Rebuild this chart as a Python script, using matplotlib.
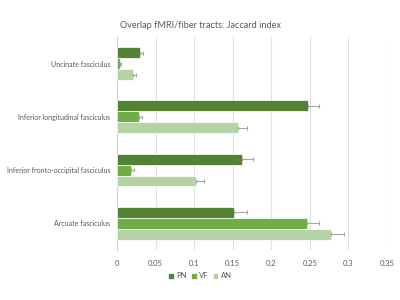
import matplotlib
matplotlib.use("Agg")
import matplotlib.pyplot as plt
import numpy as np

categories = ["Uncinate fasciculus", "Inferior longitudinal fasciculus",
              "Inferior fronto-occipital fasciculus", "Arcuate fasciculus"]
series = ["PN", "VF", "AN"]
pn = [0.029, 0.248, 0.162, 0.152]
vf = [0.003, 0.028, 0.018, 0.246]
an = [0.020, 0.157, 0.102, 0.278]
pn_err = [0.004, 0.014, 0.014, 0.016]
vf_err = [0.002, 0.004, 0.004, 0.016]
an_err = [0.004, 0.011, 0.011, 0.016]
xticks = [0, 0.05, 0.1, 0.15, 0.2, 0.25, 0.3, 0.35]
xticklabels = ["0", "0.05", "0.1", "0.15", "0.2", "0.25", "0.3", "0.35"]

colors = ["#548235", "#70AD47", "#B4D3A4"]
plt.rcParams['font.family'] = ['Lato', 'DejaVu Sans']

fig = plt.figure(figsize=(4, 3), dpi=100)
ax = fig.add_axes([0.293, 0.1667, 0.674, 0.71])

y = np.arange(len(categories))
h = 0.205
vals = [pn, vf, an]
errs = [pn_err, vf_err, an_err]
for i, (v, e, c, s) in enumerate(zip(vals, errs, colors, series)):
    ax.barh(y + (i - 1) * h, v, height=h, color=c, edgecolor="white", linewidth=0.5,
            xerr=[np.zeros(len(e)), e],
            error_kw=dict(ecolor="#A6A6A6", elinewidth=0.8, capsize=1.5, capthick=0.8),
            label=s, zorder=3)

ax.set_ylim(len(categories) - 0.5, -0.5)
ax.set_xlim(0, 0.35)
ax.set_xticks(xticks)
ax.set_xticklabels(xticklabels)
ax.set_yticks(y)
ax.set_yticklabels(categories)
ax.tick_params(axis='both', length=0, labelsize=5.5, labelcolor="#595959")
ax.tick_params(axis='y', labelsize=5.0, pad=5)
ax.tick_params(axis='x', pad=7)
ax.grid(axis='x', color="#E0E0E0", linewidth=0.8, zorder=0)
for sp in ["top", "right", "bottom"]:
    ax.spines[sp].set_visible(False)
ax.spines["left"].set_color("#D0D0D0")
ax.spines["left"].set_linewidth(0.8)

fig.suptitle("Overlap fMRI/fiber tracts: Jaccard index", x=0.5, y=0.93,
             fontsize=6.6, color="#595959")
fig.legend(loc="center", bbox_to_anchor=(0.5, 0.08), ncol=3, frameon=False,
           fontsize=5.5, labelcolor="#595959", handlelength=0.7, handleheight=0.7,
           handletextpad=0.3, columnspacing=0.6)

fig.savefig("out.png", dpi=100)
